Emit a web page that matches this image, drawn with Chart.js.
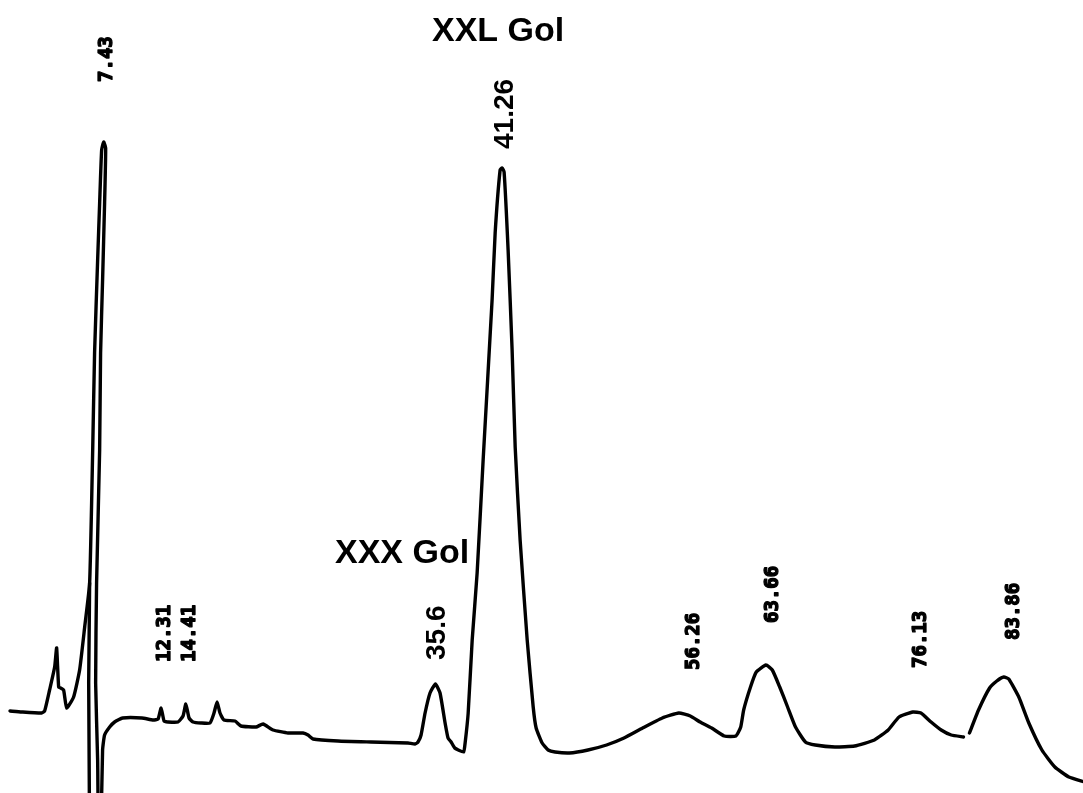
<!DOCTYPE html>
<html>
<head>
<meta charset="utf-8">
<title>Chromatogram</title>
<script src="https://cdn.jsdelivr.net/npm/chart.js@4.4.1/dist/chart.umd.min.js"></script>
<style>
  html, body { margin: 0; padding: 0; background: #ffffff; }
  #wrap { width: 1083px; height: 793px; }
</style>
</head>
<body>
<div id="wrap"><canvas id="chrom" width="1083" height="793"></canvas></div>
<script>
// Recorder trace: retention time (min) and detector signal (a.u.)
const traceTime = [
  -0.52, 0.47, 2.17, 2.42, 2.84, 3.27, 3.44, 3.61, 3.78, 4.03, 4.29, 4.88, 5.39, 5.82,
  6.24, 6.50, 6.66, 6.92, 7.09, 7.26, 7.43, 7.60, 7.51, 7.34, 7.17, 7.09, 6.83, 6.75,
  6.92, 7.00, 7.17, 7.34, 7.51, 7.94, 8.36, 9.04, 10.68, 11.64,
  12.05, 12.31, 12.56, 12.90, 13.74, 14.17, 14.41, 14.68, 15.02, 15.70, 16.46, 16.80,
  17.06, 17.31, 17.65, 18.58, 19.09, 20.37, 20.96, 21.81, 23.09, 24.36, 24.78, 25.21,
  27.33, 30.13, 33.27, 33.87, 34.12, 34.38, 34.72, 35.14, 35.6, 35.99, 36.42, 36.67,
  36.93, 37.24, 37.54, 37.99, 38.12, 38.38, 38.72, 39.14, 39.65, 40.41, 40.67, 41.09,
  41.26, 41.43, 41.77, 42.11, 42.37, 42.79, 43.39, 43.90, 44.15, 44.66, 45.17, 45.76,
  46.97, 48.55, 50.13, 51.61, 53.19, 54.86, 56.26, 57.24, 58.07, 59.05, 60.12, 61.11,
  61.52, 61.77, 62.35, 62.84, 63.66, 64.20, 64.83, 65.50, 66.17, 67.01, 67.85, 69.52,
  71.19, 72.87, 74.04, 74.96, 76.13, 76.82, 77.68, 78.54, 79.39, 80.43, 80.68,
  80.94, 81.71, 82.65, 83.26, 83.86, 84.28, 85.13, 85.98, 87.09, 88.19, 89.38, 90.74
];
const traceSignal = [
  8.2, 8.1, 8.0, 8.2, 10.3, 12.6, 14.5, 10.6, 10.5, 10.3, 8.5, 9.6, 12.3, 16.6,
  21.0, 34.3, 44.0, 53.3, 59.0, 64.3, 65.1, 64.5, 59.0, 51.3, 44.0, 34.3, 21.0, 11.0,
  3.3, -5, -5, 4.3, 5.8, 6.6, 7.1, 7.5, 7.5, 7.3,
  7.4, 8.5, 7.2, 7.1, 7.1, 7.7, 8.9, 7.5, 7.1, 7.0, 7.0, 8.0,
  9.1, 8.0, 7.3, 7.2, 6.7, 6.6, 6.9, 6.3, 6.0, 6.0, 5.8, 5.4,
  5.2, 5.1, 5.0, 4.9, 5.1, 5.8, 8.0, 10.0, 10.9, 10.0, 7.0, 5.5,
  5.1, 4.5, 4.3, 4.1, 5.0, 8.0, 15.3, 22.0, 33.3, 49.3, 56.0, 62.3,
  62.5, 62.1, 54.3, 44.3, 34.6, 25.3, 15.3, 8.6, 6.5, 5.0, 4.3, 4.1,
  4.0, 4.3, 4.8, 5.5, 6.5, 7.5, 8.0, 7.7, 7.1, 6.5, 5.7, 5.7,
  6.6, 8.3, 10.6, 12.1, 12.8, 12.3, 10.6, 8.6, 6.6, 5.1, 4.8, 4.6,
  4.7, 5.3, 6.3, 7.6, 8.1, 8.0, 7.1, 6.3, 5.8, 5.6, null,
  6.0, 8.3, 10.5, 11.2, 11.6, 11.4, 9.6, 7.0, 4.3, 2.6, 1.6, 1.1
];

// Solvent front pen stroke running off-scale below the baseline
const tailTime = [6.24, 6.16, 6.24];
const tailSignal = [21.0, 11.0, -5];

// Integrator retention-time marks
const peakTimes = [7.43, 12.31, 14.41, 35.6, 41.26, 56.26, 63.66, 76.13, 83.86];
const peakLabels = ['7.43', '12.31', '14.41', '35.6', '41.26', '56.26', '63.66', '76.13', '83.86'];

// Compound names
const compoundNames = ['XXL Gol', 'XXX Gol'];

// Label layout (pixels): horizontal nudge, lift above apex, typeface
const labelDx = [3, 4, 4, 2, 3, 15, 7, 8, 10];
const labelLift = [60, 46, 42, 24, 19, 43, 42, 44, 37];
const labelFace = ['mono', 'mono', 'mono', 'sans', 'sans', 'mono', 'mono', 'mono', 'mono'];
const faces = {
  mono: { font: 'bold 19px "DejaVu Sans Mono", "Liberation Mono", monospace', stroke: 1.3 },
  sans: { font: 'bold 28px "Liberation Sans", Arial, sans-serif', stroke: 0 }
};
// Compound name placement as fractions of the plot area (left, baseline)
const nameSpots = [[432 / 1083, 41 / 793], [335 / 1083, 563 / 793]];

const toPoints = (xs, ys) => xs.map((x, i) => ({ x: x, y: ys[i] }));

const annotate = {
  id: 'annotate',
  afterDatasetsDraw(chart) {
    const { ctx, chartArea, scales } = chart;
    const xs = scales.x, ys = scales.y;
    ctx.save();
    ctx.fillStyle = '#000';
    ctx.strokeStyle = '#000';
    ctx.lineJoin = 'round';
    peakTimes.forEach((t, i) => {
      const idx = traceTime.indexOf(t);
      const apex = traceSignal[idx];
      const px = xs.getPixelForValue(t) + labelDx[i];
      const py = ys.getPixelForValue(apex) - labelLift[i];
      const face = faces[labelFace[i]];
      ctx.save();
      ctx.translate(px, py);
      ctx.rotate(-Math.PI / 2);
      ctx.font = face.font;
      ctx.textAlign = 'left';
      ctx.textBaseline = 'middle';
      ctx.fillText(peakLabels[i], 0, 0);
      if (face.stroke) {
        ctx.lineWidth = face.stroke;
        ctx.strokeText(peakLabels[i], 0, 0);
      }
      ctx.restore();
    });
    ctx.font = 'bold 34px "Liberation Sans", Arial, sans-serif';
    ctx.textAlign = 'left';
    ctx.textBaseline = 'alphabetic';
    compoundNames.forEach((name, i) => {
      const w = chartArea.right - chartArea.left;
      const h = chartArea.bottom - chartArea.top;
      ctx.fillText(name, chartArea.left + nameSpots[i][0] * w, chartArea.top + nameSpots[i][1] * h);
    });
    ctx.restore();
  }
};

new Chart(document.getElementById('chrom'), {
  type: 'line',
  data: {
    datasets: [
      {
        data: toPoints(traceTime, traceSignal),
        borderColor: '#000',
        borderWidth: 3.4,
        pointRadius: 0,
        tension: 0.15,
        fill: false,
        spanGaps: false,
        borderCapStyle: 'round',
        borderJoinStyle: 'round'
      },
      {
        data: toPoints(tailTime, tailSignal),
        borderColor: '#000',
        borderWidth: 3.4,
        pointRadius: 0,
        tension: 0,
        fill: false,
        borderCapStyle: 'round'
      }
    ]
  },
  options: {
    responsive: false,
    animation: false,
    layout: { padding: 0 },
    plugins: { legend: { display: false }, tooltip: { enabled: false } },
    scales: {
      x: { type: 'linear', min: -1.37, max: 90.58, display: false },
      y: { type: 'linear', min: 0, max: 79.3, display: false }
    }
  },
  plugins: [annotate]
});
</script>
</body>
</html>
